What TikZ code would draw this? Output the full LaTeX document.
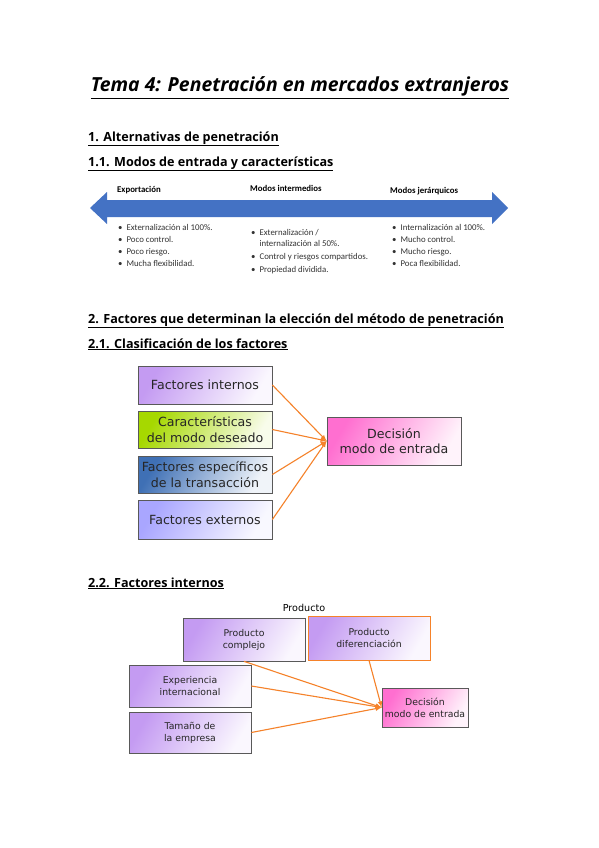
\documentclass[tikz,border=0pt]{standalone}
\usepackage{fontspec}
\setmainfont{Open Sans}
\newfontfamily\diagfont{DejaVu Sans}
\newfontfamily\listfont{Carlito}
\usepackage{xcolor}
\usepackage{tikz}
\usetikzlibrary{calc, positioning, shadows}

\definecolor{azulflecha}{HTML}{4472C4}
\definecolor{naranja}{HTML}{F5822A}
\definecolor{lila}{HTML}{C49BF2}
\definecolor{verdelima}{HTML}{A6D800}
\definecolor{azulcaja}{HTML}{3F70B5}
\definecolor{malva}{HTML}{A9A6FF}
\definecolor{rosa}{HTML}{FF6FD0}

\begin{document}
\begin{tikzpicture}[x=1pt, y=-1pt, >=latex,
    titulo/.style={anchor=base west, inner sep=0pt, font=\bfseries\fontsize{12.6}{15}\selectfont},
    lista/.style={anchor=base west, inner sep=0pt, text=black!80, font=\listfont\fontsize{8.8}{12}\selectfont},
    modo/.style={anchor=base west, inner sep=0pt, font=\listfont\bfseries\fontsize{8.8}{10}\selectfont},
    caja/.style={draw=gray!70!black, line width=0.7pt, inner sep=0pt, align=center, text=black!85,
        drop shadow={shadow xshift=0.8pt, shadow yshift=-0.8pt, fill=gray!45},
        font=\diagfont\fontsize{12.6}{15.5}\selectfont},
    cajita/.style={caja, font=\diagfont\fontsize{9.3}{12}\selectfont},
    degradado/.style={left color=#1, right color=#1!8, shading angle=60},
    conector/.style={->, naranja, line width=1.1pt}]

    % 0. Fondo y tamaño de la página
    \fill[white] (0,0) rectangle (599,848);
    \useasboundingbox (0,0) rectangle (599,848);

    % 1. Título y encabezados
    \node[anchor=base, inner sep=0pt] (tema) at (300,92)
        {\fontsize{19.4}{22}\selectfont\bfseries\itshape\underline{Tema 4: Penetración en mercados extranjeros}};
    \node[titulo] (sec1) at (88,141) {\underline{1. Alternativas de penetración}};
    \node[titulo] (sec11) at (88,166) {\underline{1.1. Modos de entrada y características}};

    % 2. Flecha doble azul
    \fill[azulflecha] (90,208) -- (107,192) -- (107,200) -- (492,200) -- (492,192) -- (508,208)
        -- (492,224) -- (492,217) -- (107,217) -- (107,224) -- cycle;

    % Modos de entrada sobre la flecha
    \node[modo] (exp) at (117,192) {Exportación};
    \node[modo] (inter) at (250,191) {Modos intermedios};
    \node[modo] (jer) at (390,193) {Modos jerárquicos};

    % Características de cada modo
    \node[lista] (col1) at (118,230) {\begin{tabular}[t]{@{}l@{\hspace{4pt}}l@{}}
        •&Externalización al 100\%.\\ •&Poco control.\\ •&Poco riesgo.\\ •&Mucha flexibilidad.\end{tabular}};
    \node[lista, font=\listfont\fontsize{8.8}{11}\selectfont] (col2) at (251,235) {\begin{tabular}[t]{@{}l@{\hspace{4pt}}l@{}}
        •&Externalización /\\ &internalización al 50\%.\\[2pt] •&Control y riesgos compartidos.\\[2pt] •&Propiedad dividida.\end{tabular}};
    \node[lista] (col3) at (392,230) {\begin{tabular}[t]{@{}l@{\hspace{4pt}}l@{}}
        •&Internalización al 100\%.\\ •&Mucho control.\\ •&Mucho riesgo.\\ •&Poca flexibilidad.\end{tabular}};

    % 3. Factores que determinan la elección
    \node[titulo] (sec2) at (88,323) {\underline{2. Factores que determinan la elección del método de penetración}};
    \node[titulo] (sec21) at (88,348) {\underline{2.1. Clasificación de los factores}};

    \node[caja, degradado=lila, minimum width=134, minimum height=38] (fint) at (205,385) {Factores internos};
    \node[caja, degradado=verdelima, minimum width=134, minimum height=37] (fcar) at (205,429.5) {Características\\del modo deseado};
    \node[caja, degradado=azulcaja, minimum width=134, minimum height=37] (fesp) at (205,474.5) {Factores específicos\\de la transacción};
    \node[caja, degradado=malva, minimum width=134, minimum height=39] (fext) at (205,519.5) {Factores externos};
    \node[caja, degradado=rosa, minimum width=134, minimum height=48] (dec1) at (394,441) {Decisión\\modo de entrada};

    \foreach \f in {fint,fcar,fesp,fext}
        \draw[conector] (\f.east) -- (dec1.west);

    % 4. Factores internos
    \node[titulo] (sec22) at (88,587) {\underline{2.2. Factores internos}};
    \node[inner sep=0pt, font=\diagfont\fontsize{9.6}{11}\selectfont] (prod) at (304,608) {Producto};

    \node[cajita, degradado=lila, minimum width=122, minimum height=43] (pcom) at (244,639.5) {Producto\\complejo};
    \node[cajita, degradado=lila, draw=naranja, minimum width=122, minimum height=44] (pdif) at (369,638) {Producto\\diferenciación};
    \node[cajita, degradado=lila, minimum width=122, minimum height=42] (expi) at (190,686) {Experiencia\\internacional};
    \node[cajita, degradado=lila, minimum width=122, minimum height=41] (tam) at (190,732.5) {Tamaño de\\la empresa};
    \node[cajita, degradado=rosa, minimum width=86, minimum height=39] (dec2) at (425,707.5) {Decisión\\modo de entrada};

    \draw[conector] (pcom.south) -- (dec2.west);
    \draw[conector] (pdif.south) -- (dec2.west);
    \draw[conector] (expi.east) -- (dec2.west);
    \draw[conector] (tam.east) -- (dec2.west);

\end{tikzpicture}
\end{document}
